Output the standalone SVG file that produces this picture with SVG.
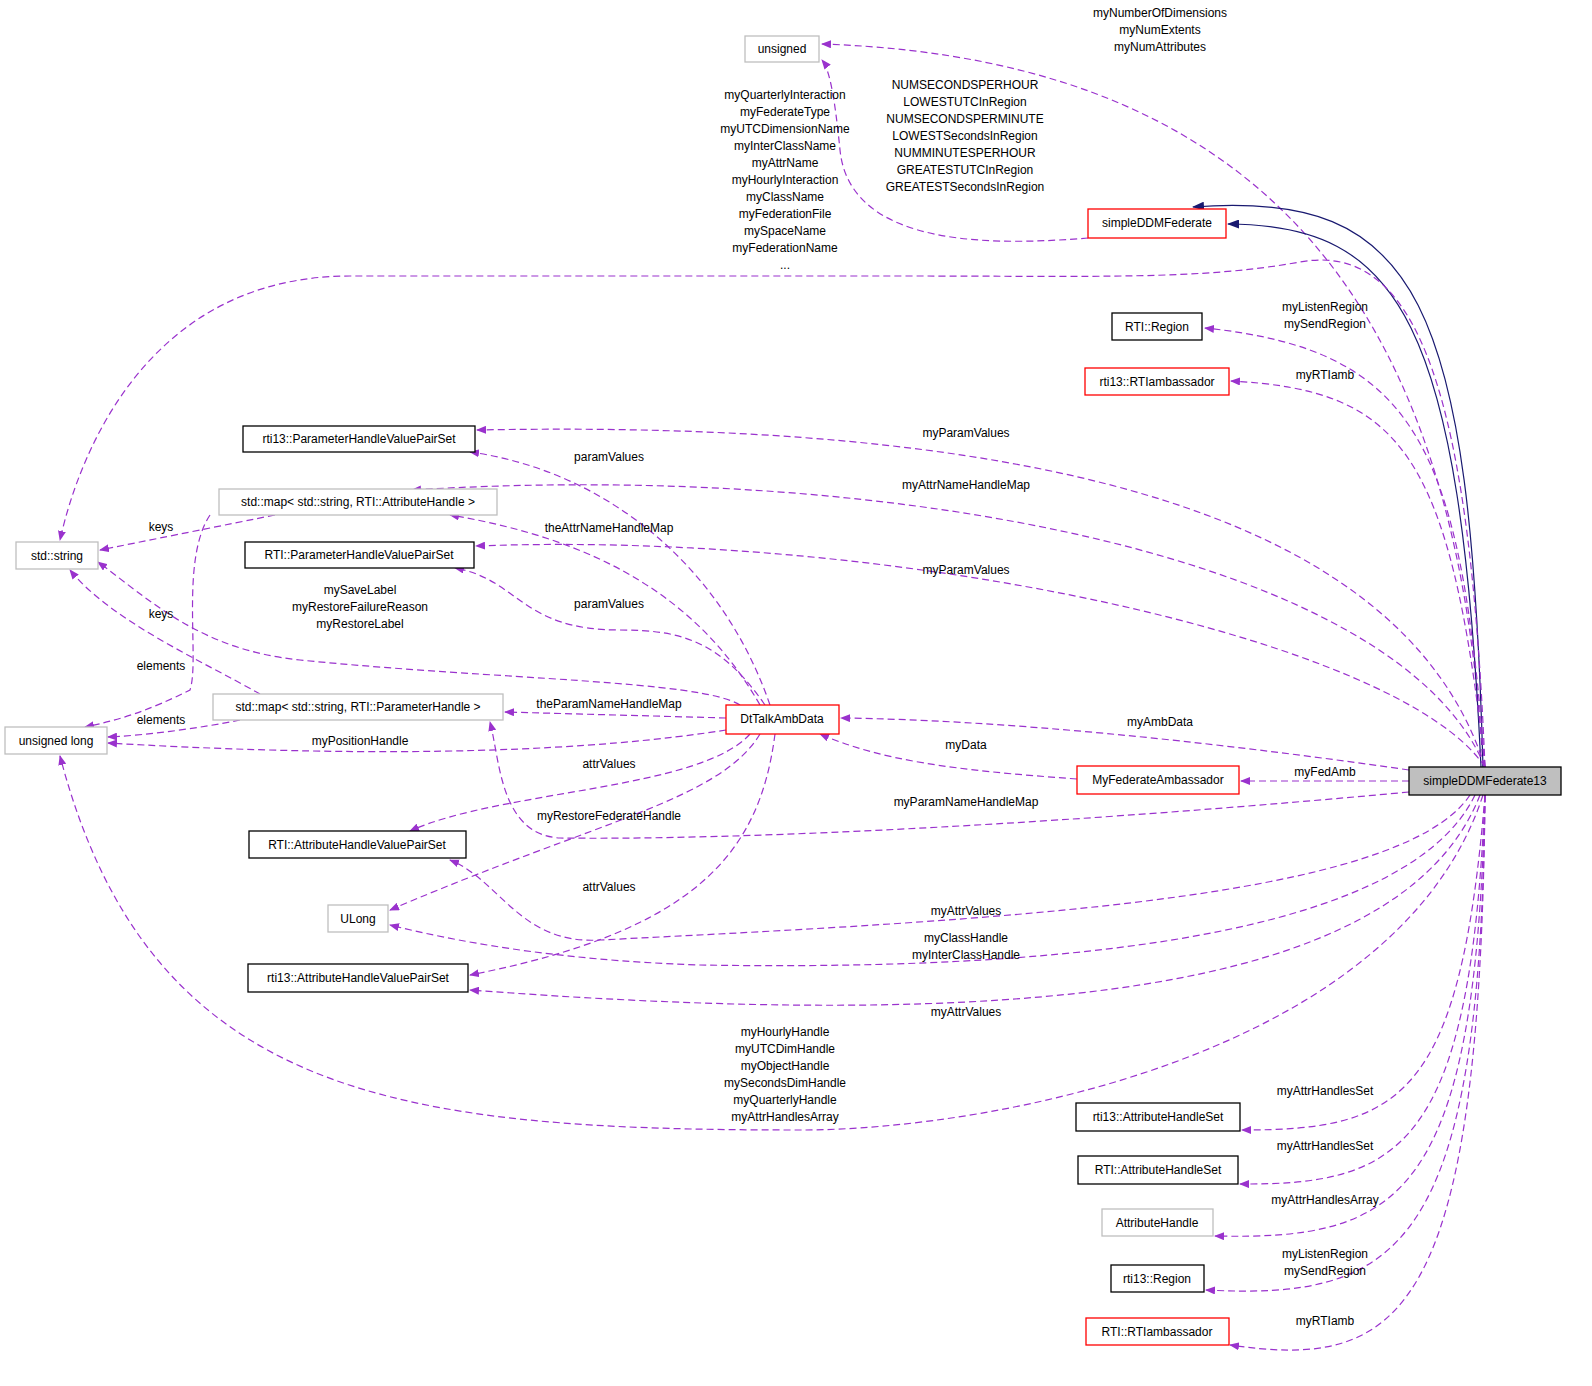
<svg xmlns="http://www.w3.org/2000/svg" width="1592" height="1386" viewBox="0 0 1592 1386">
<defs>
<marker id="ap" markerWidth="10" markerHeight="8" refX="9" refY="4" orient="auto" markerUnits="userSpaceOnUse"><path d="M0,0 L10,4 L0,8 z" fill="#9a32cd"/></marker>
<marker id="an" markerWidth="12" markerHeight="9" refX="11" refY="4.5" orient="auto" markerUnits="userSpaceOnUse"><path d="M0,0 L12,4.5 L0,9 z" fill="#191970"/></marker>
<style>
text{font-family:"Liberation Sans",Arial,sans-serif;font-size:12px;fill:#000;text-anchor:middle}
.n rect{fill:#fff;stroke-width:1.3}
.g rect{stroke:#bfbfbf}.b rect{stroke:#000}.r rect{stroke:#ff0000}
.e{fill:none;stroke:#9a32cd;stroke-width:1.2;stroke-dasharray:7,4;marker-end:url(#ap)}
.i{fill:none;stroke:#191970;stroke-width:1.2;marker-end:url(#an)}
</style>
</defs>
<g id="connectors">
<path class="e" d="M1483,767 C1460,350 1300,60 822,44"/>
<path class="i" d="M1483,767 C1470,300 1420,190 1193,207"/>
<path class="i" d="M1481,767 C1460,320 1400,225 1228,224"/>
<path class="e" d="M1088,238 C1000,245 850,250 840,150 C835,100 830,70 822,60"/>
<path class="e" d="M1485,767 C1470,400 1420,240 1300,262 C1200,280 1100,276 900,276 L350,276 C150,276 80,450 60,540"/>
<path class="e" d="M1485,767 C1460,450 1420,350 1205,328"/>
<path class="e" d="M1485,767 C1450,450 1400,390 1231,381"/>
<path class="e" d="M1485,767 C1400,500 1000,420 477,430"/>
<path class="e" d="M1485,767 C1400,560 900,460 412,490"/>
<path class="e" d="M1485,767 C1400,640 900,530 476,546"/>
<path class="e" d="M1409,770 C1200,740 1000,720 841,718"/>
<path class="e" d="M1409,781 L1241,781"/>
<path class="e" d="M1409,792 C1000,830 700,840 560,838 C500,835 500,760 490,722"/>
<path class="e" d="M1470,795 C1400,900 1000,920 600,940 C520,945 500,880 450,860"/>
<path class="e" d="M1475,795 C1400,950 1000,970 700,965 C550,960 450,940 390,925"/>
<path class="e" d="M1480,795 C1400,1000 1000,1030 470,990"/>
<path class="e" d="M1483,795 C1400,1050 1000,1130 800,1130 C400,1130 150,1100 60,756"/>
<path class="e" d="M1485,795 C1460,1100 1400,1130 1242,1130"/>
<path class="e" d="M1485,795 C1470,1150 1400,1185 1240,1184"/>
<path class="e" d="M1485,795 C1475,1200 1400,1240 1215,1236"/>
<path class="e" d="M1485,795 C1480,1250 1400,1300 1206,1290"/>
<path class="e" d="M1485,795 C1480,1320 1400,1370 1230,1345"/>
<path class="e" d="M770,705 C720,560 600,470 470,452"/>
<path class="e" d="M760,705 C700,600 600,540 450,515"/>
<path class="e" d="M765,705 C720,640 680,630 620,630 C520,630 520,580 455,568"/>
<path class="e" d="M740,705 C700,680 500,680 300,660 C200,650 150,600 98,562"/>
<path class="e" d="M726,718 L505,712"/>
<path class="e" d="M726,730 C600,750 400,760 108,743"/>
<path class="e" d="M750,734 C700,790 500,790 410,831"/>
<path class="e" d="M760,734 C720,800 600,820 390,910"/>
<path class="e" d="M775,734 C760,850 700,930 470,975"/>
<path class="e" d="M1077,779 C950,770 880,760 820,734"/>
<path class="e" d="M275,515 C200,530 150,540 100,550"/>
<path class="e" d="M210,515 C180,560 200,660 190,690 C150,710 120,720 85,727"/>
<path class="e" d="M260,694 C200,660 110,620 70,570"/>
<path class="e" d="M240,720 C200,728 150,735 108,737"/>
</g>
<g id="labels">
<text x="1160" y="17">myNumberOfDimensions</text><text x="1160" y="34">myNumExtents</text><text x="1160" y="51">myNumAttributes</text>
<text x="965" y="89">NUMSECONDSPERHOUR</text><text x="965" y="106">LOWESTUTCInRegion</text><text x="965" y="123">NUMSECONDSPERMINUTE</text><text x="965" y="140">LOWESTSecondsInRegion</text><text x="965" y="157">NUMMINUTESPERHOUR</text><text x="965" y="174">GREATESTUTCInRegion</text><text x="965" y="191">GREATESTSecondsInRegion</text>
<text x="785" y="99">myQuarterlyInteraction</text><text x="785" y="116">myFederateType</text><text x="785" y="133">myUTCDimensionName</text><text x="785" y="150">myInterClassName</text><text x="785" y="167">myAttrName</text><text x="785" y="184">myHourlyInteraction</text><text x="785" y="201">myClassName</text><text x="785" y="218">myFederationFile</text><text x="785" y="235">mySpaceName</text><text x="785" y="252">myFederationName</text><text x="785" y="269">...</text>
<text x="1325" y="311">myListenRegion</text><text x="1325" y="328">mySendRegion</text>
<text x="1325" y="379">myRTIamb</text>
<text x="966" y="437">myParamValues</text>
<text x="966" y="489">myAttrNameHandleMap</text>
<text x="966" y="574">myParamValues</text>
<text x="1160" y="726">myAmbData</text>
<text x="1325" y="776">myFedAmb</text>
<text x="966" y="806">myParamNameHandleMap</text>
<text x="966" y="915">myAttrValues</text>
<text x="966" y="942">myClassHandle</text><text x="966" y="959">myInterClassHandle</text>
<text x="966" y="1016">myAttrValues</text>
<text x="785" y="1036">myHourlyHandle</text><text x="785" y="1053">myUTCDimHandle</text><text x="785" y="1070">myObjectHandle</text><text x="785" y="1087">mySecondsDimHandle</text><text x="785" y="1104">myQuarterlyHandle</text><text x="785" y="1121">myAttrHandlesArray</text>
<text x="1325" y="1095">myAttrHandlesSet</text>
<text x="1325" y="1150">myAttrHandlesSet</text>
<text x="1325" y="1204">myAttrHandlesArray</text>
<text x="1325" y="1258">myListenRegion</text><text x="1325" y="1275">mySendRegion</text>
<text x="1325" y="1325">myRTIamb</text>
<text x="609" y="461">paramValues</text>
<text x="609" y="532">theAttrNameHandleMap</text>
<text x="609" y="608">paramValues</text>
<text x="360" y="594">mySaveLabel</text><text x="360" y="611">myRestoreFailureReason</text><text x="360" y="628">myRestoreLabel</text>
<text x="609" y="708">theParamNameHandleMap</text>
<text x="360" y="745">myPositionHandle</text>
<text x="609" y="768">attrValues</text>
<text x="609" y="820">myRestoreFederateHandle</text>
<text x="609" y="891">attrValues</text>
<text x="966" y="749">myData</text>
<text x="161" y="531">keys</text>
<text x="161" y="670">elements</text>
<text x="161" y="618">keys</text>
<text x="161" y="724">elements</text>
</g>
<g id="unsigned" class="n g"><rect x="745" y="36" width="74" height="26"/><text x="782" y="53">unsigned</text></g>
<g id="simpleDDMFederate" class="n r"><rect x="1088" y="209" width="138" height="29"/><text x="1157" y="227">simpleDDMFederate</text></g>
<g id="RTI_Region" class="n b"><rect x="1112" y="313" width="90" height="27"/><text x="1157" y="331">RTI::Region</text></g>
<g id="rti13_RTIambassador" class="n r"><rect x="1085" y="368" width="144" height="27"/><text x="1157" y="386">rti13::RTIambassador</text></g>
<g id="rti13_ParameterHandleValuePairSet" class="n b"><rect x="243" y="426" width="232" height="26"/><text x="359" y="443">rti13::ParameterHandleValuePairSet</text></g>
<g id="map_attr" class="n g"><rect x="219" y="489" width="278" height="26"/><text x="358" y="506">std::map&lt; std::string, RTI::AttributeHandle &gt;</text></g>
<g id="std_string" class="n g"><rect x="16" y="542" width="82" height="27"/><text x="57" y="560">std::string</text></g>
<g id="RTI_ParameterHandleValuePairSet" class="n b"><rect x="245" y="542" width="229" height="26"/><text x="359" y="559">RTI::ParameterHandleValuePairSet</text></g>
<g id="map_param" class="n g"><rect x="213" y="694" width="290" height="26"/><text x="358" y="711">std::map&lt; std::string, RTI::ParameterHandle &gt;</text></g>
<g id="unsigned_long" class="n g"><rect x="5" y="727" width="102" height="27"/><text x="56" y="745">unsigned long</text></g>
<g id="DtTalkAmbData" class="n r"><rect x="726" y="705" width="113" height="29"/><text x="782" y="723">DtTalkAmbData</text></g>
<g id="MyFederateAmbassador" class="n r"><rect x="1077" y="766" width="162" height="28"/><text x="1158" y="784">MyFederateAmbassador</text></g>
<g id="simpleDDMFederate13"><rect x="1409" y="767" width="152" height="28" fill="#bfbfbf" stroke="#000" stroke-width="1.3"/><text x="1485" y="785">simpleDDMFederate13</text></g>
<g id="RTI_AttributeHandleValuePairSet" class="n b"><rect x="249" y="831" width="217" height="27"/><text x="357" y="849">RTI::AttributeHandleValuePairSet</text></g>
<g id="ULong" class="n g"><rect x="328" y="905" width="60" height="27"/><text x="358" y="923">ULong</text></g>
<g id="rti13_AttributeHandleValuePairSet" class="n b"><rect x="248" y="964" width="220" height="28"/><text x="358" y="982">rti13::AttributeHandleValuePairSet</text></g>
<g id="rti13_AttributeHandleSet" class="n b"><rect x="1076" y="1103" width="164" height="28"/><text x="1158" y="1121">rti13::AttributeHandleSet</text></g>
<g id="RTI_AttributeHandleSet" class="n b"><rect x="1078" y="1156" width="160" height="28"/><text x="1158" y="1174">RTI::AttributeHandleSet</text></g>
<g id="AttributeHandle" class="n g"><rect x="1102" y="1209" width="111" height="27"/><text x="1157" y="1227">AttributeHandle</text></g>
<g id="rti13_Region" class="n b"><rect x="1111" y="1265" width="93" height="27"/><text x="1157" y="1283">rti13::Region</text></g>
<g id="RTI_RTIambassador" class="n r"><rect x="1086" y="1318" width="143" height="27"/><text x="1157" y="1336">RTI::RTIambassador</text></g>
</svg>
